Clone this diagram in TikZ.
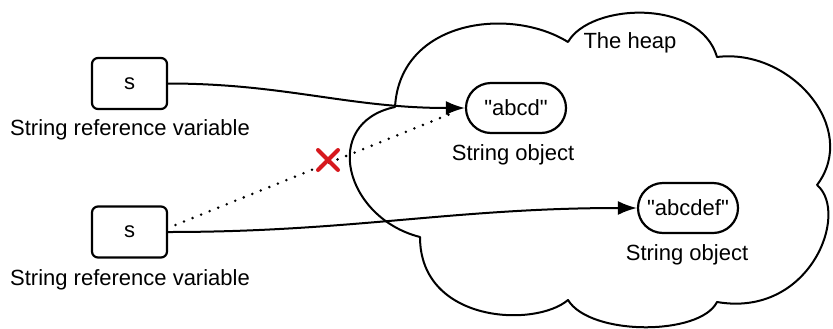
\documentclass[tikz,border=0pt]{standalone}
\usepackage{fontspec}
\setmainfont{Liberation Sans}
\usetikzlibrary{arrows.meta,shapes.misc}
\definecolor{cutred}{RGB}{215,25,30}

\begin{document}
\begin{tikzpicture}[x=0.5pt,y=0.5pt,line cap=round,line join=round,>={Latex[length=9.5pt,width=7pt]},
  every node/.style={font=\fontsize{11}{13}\selectfont},
  refbox/.style={draw,line width=1.1pt,rounded corners=3pt,minimum width=37.5pt,minimum height=25.5pt,inner sep=0pt},
  objbox/.style={draw,line width=1.1pt,rounded rectangle,minimum width=50pt,minimum height=25pt,inner sep=0pt},
  caption/.style={inner sep=0pt}]
  \useasboundingbox (0,0) rectangle (833,328);
  % the heap
  \draw[line width=1pt,fill=white] (395,221) .. controls (400,308) and (510,322) .. (568,286)
    .. controls (590,325) and (700,330) .. (717,271)
    .. controls (790,280) and (860,200) .. (817,143)
    .. controls (850,115) and (810,10) .. (717,26)
    .. controls (700,-8) and (590,-8) .. (568,28)
    .. controls (535,0) and (420,5) .. (420,91)
    .. controls (345,110) and (320,205) .. (395,221) -- cycle;
  \node[caption] (heap) at (630,285) {The heap};
  % variables
  \node[refbox] (s1) at (129.5,244.5) {s};
  \node[caption] (s1cap) at (130,198) {String reference variable};
  \node[refbox] (s2) at (129.5,96) {s};
  \node[caption] (s2cap) at (130,48) {String reference variable};
  % objects
  \node[objbox] (abcd) at (516,220) {\textquotedbl abcd\textquotedbl};
  \node[caption] (abcdcap) at (513,173) {String object};
  \node[objbox] (abcdef) at (688,120) {\textquotedbl abcdef\textquotedbl};
  \node[caption] (abcdefcap) at (687,73) {String object};
  % references
  \draw[line width=1pt,->] (s1.east) to[out=0,in=180] (abcd.west);
  \draw[line width=1pt,->] (s2.east) to[out=0,in=180] (abcdef.west);
  \draw[line width=1.4pt,dash pattern=on 0pt off 4.6pt,shorten <=4pt,shorten >=6pt] (s2.6) -- (abcd.west);
  \node[cross out,draw=cutred,line width=2pt,minimum size=8pt,inner sep=0pt] (cut) at (328,168) {};
\end{tikzpicture}
\end{document}
